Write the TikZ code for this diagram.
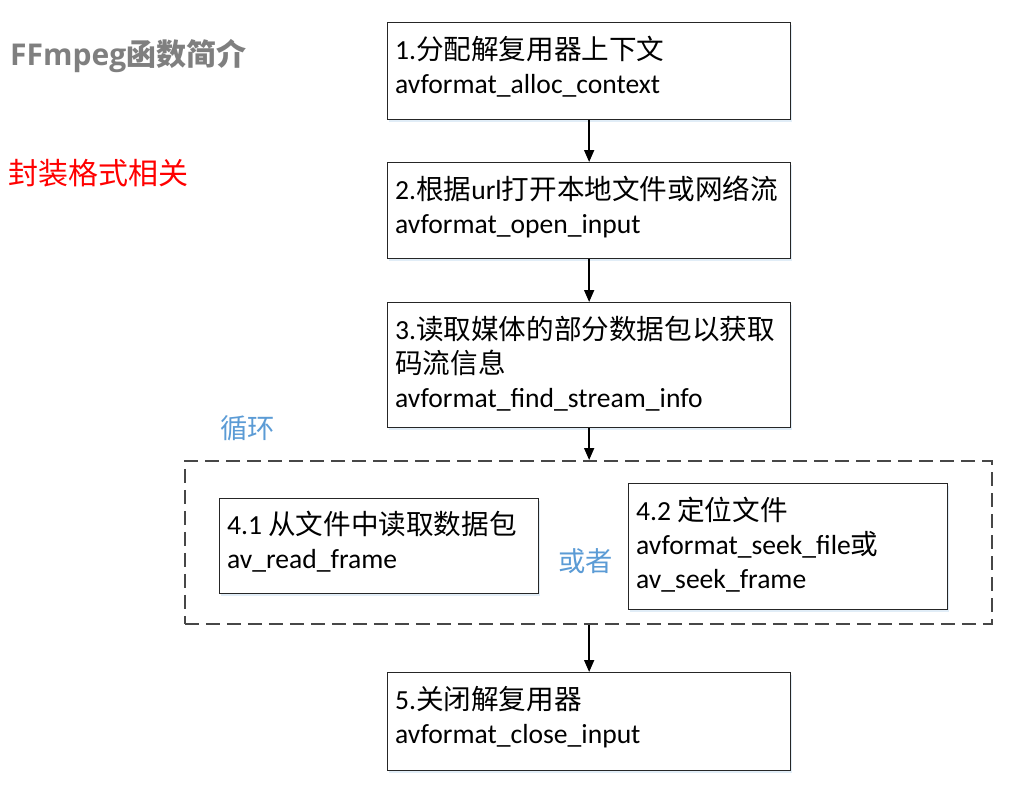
\documentclass[tikz,border=0pt]{standalone}
\usepackage{fontspec}
\setmainfont{Carlito}
\newfontfamily\cjk{Noto Sans CJK SC}
\newfontfamily\osans{Open Sans}
\usetikzlibrary{arrows.meta,shadows,calc}
\definecolor{lblue}{RGB}{91,155,213}
\definecolor{tgray}{RGB}{127,127,127}
\begin{document}
\begin{tikzpicture}[x=1pt,y=-1pt,
  box/.style={draw=black!85, line width=1.3pt, fill=white, inner sep=0pt, anchor=north west,
    drop shadow={shadow xshift=1.5pt, shadow yshift=-2pt, fill=lblue, opacity=0.18}},
  loopbox/.style={draw=black!72, line width=1.5pt, dash pattern=on 14pt off 7pt, inner sep=0pt, anchor=north west},
  txt/.style={anchor=north west, inner sep=0pt, align=left, font=\fontsize{27.6}{34}\selectfont},
  arr/.style={draw=black, line width=1.6pt, -{Triangle[length=12pt,width=10pt]}},
  lbl/.style={anchor=west, inner sep=0pt, text=lblue, font=\fontsize{27.3}{30}\selectfont\cjk}
]
\useasboundingbox (0,0) rectangle (1016,811);

% title labels
\node[anchor=west, inner sep=0pt, text=tgray, font=\fontsize{30}{34}\selectfont\bfseries] (title) at (10,56)
  {{\osans FFmpeg}{\cjk 函数简介}};
\node[anchor=west, inner sep=0pt, text=red, font=\fontsize{30}{34}\selectfont\cjk] (sub) at (8,173) {封装格式相关};

% loop region
\node[loopbox, minimum width=807pt, minimum height=163pt] (loop) at (184,460) {};
\node[lbl] (xunhuan) at (220,428) {循环};
\node[lbl] (huozhe) at (558,561) {或者};

% boxes
\node[box, minimum width=403pt, minimum height=97pt] (b1) at (387,22) {};
\node[box, minimum width=403pt, minimum height=96pt] (b2) at (387,162) {};
\node[box, minimum width=403pt, minimum height=125pt] (b3) at (387,302) {};
\node[box, minimum width=319pt, minimum height=95pt] (b41) at (219,498) {};
\node[box, minimum width=319pt, minimum height=126pt] (b42) at (628,483) {};
\node[box, minimum width=403pt, minimum height=98pt] (b5) at (387,672) {};

% texts
\node[txt] (t1) at ($(b1.north west)+(8,11.5)$)
  {\rule{0pt}{26pt}1.{\cjk 分配解复用器上下文}\\avformat\_alloc\_context};
\node[txt] (t2) at ($(b2.north west)+(8,11.5)$)
  {\rule{0pt}{26pt}2.{\cjk 根据}url{\cjk 打开本地文件或网络流}\\avformat\_open\_input};
\node[txt] (t3) at ($(b3.north west)+(8,11.5)$)
  {\rule{0pt}{26pt}3.{\cjk 读取媒体的部分数据包以获取}\\{\cjk 码流信息}\\avformat\_find\_stream\_info};
\node[txt] (t41) at ($(b41.north west)+(8,10.5)$)
  {\rule{0pt}{26pt}4.1 {\cjk 从文件中读取数据包}\\av\_read\_frame};
\node[txt] (t42) at ($(b42.north west)+(8,11.5)$)
  {\rule{0pt}{26pt}4.2 {\cjk 定位文件}\\avformat\_seek\_file{\cjk 或}\\av\_seek\_frame};
\node[txt] (t5) at ($(b5.north west)+(8,11)$)
  {\rule{0pt}{26pt}5.{\cjk 关闭解复用器}\\avformat\_close\_input};

% connectors
\draw[arr] (b1.south) -- (b2.north);
\draw[arr] (b2.south) -- (b3.north);
\draw[arr] (b3.south) -- (b3.south |- loop.north);
\draw[arr] (loop.south -| b5.north) -- (b5.north);
\end{tikzpicture}
\end{document}
